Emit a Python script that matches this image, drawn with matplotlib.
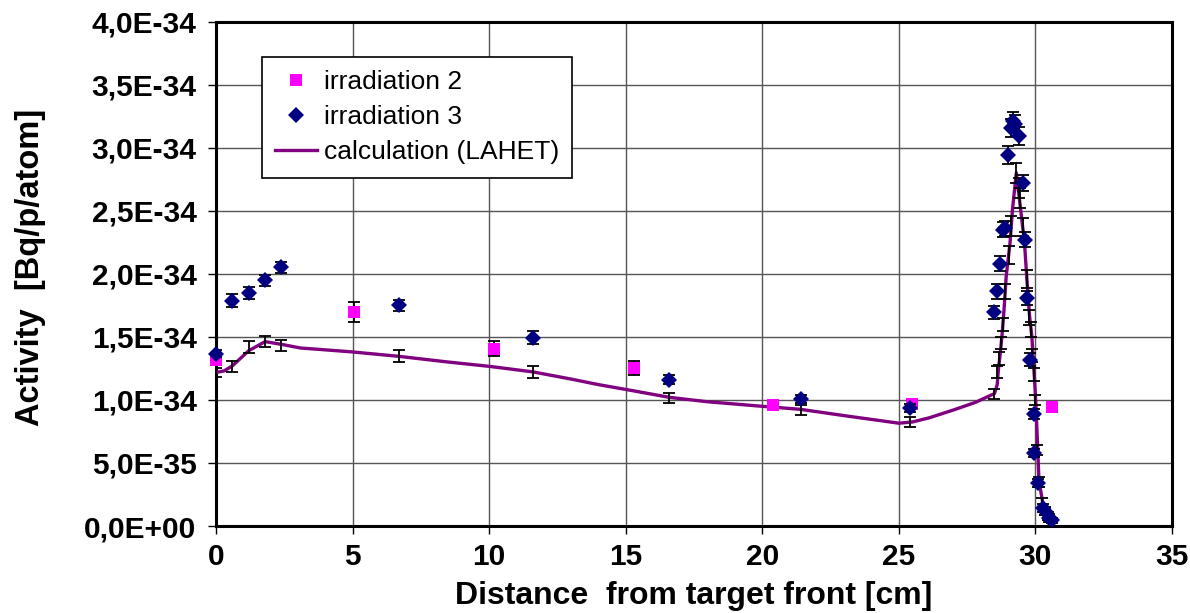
import matplotlib
matplotlib.use("Agg")
import matplotlib.pyplot as plt
from matplotlib.lines import Line2D
from matplotlib.ticker import FixedLocator

# ---------------- data ----------------
irr2_x = [0.0, 5.07, 10.18, 15.30, 20.40, 25.49, 30.60]
irr2_y = [1.314, 1.698, 1.407, 1.254, 0.960, 0.968, 0.944]
irr2_e = [0.03, 0.08, 0.063, 0.054, 0.02, 0.02, 0.02]

irr3_x = [0.0, 0.60, 1.20, 1.79, 2.39, 6.70, 11.61, 16.59, 21.42, 25.41,
          28.49, 28.61, 28.71, 28.82, 28.90, 29.01, 29.11, 29.19, 29.26, 29.40,
          29.54, 29.62, 29.69, 29.81, 29.93, 29.96, 30.11, 30.26, 30.36, 30.48, 30.60]
irr3_y = [1.367, 1.787, 1.846, 1.947, 2.052, 1.750, 1.494, 1.159, 1.008, 0.936,
          1.695, 1.860, 2.080, 2.350, 2.360, 2.940, 3.157, 3.210, 3.185, 3.090,
          2.720, 2.270, 1.810, 1.320, 0.891, 0.579, 0.341, 0.143, 0.116, 0.063, 0.044]
irr3_e = [0.03, 0.05, 0.045, 0.045, 0.045, 0.044, 0.049, 0.036, 0.03, 0.03,
          0.05, 0.06, 0.06, 0.062, 0.062, 0.07, 0.07, 0.07, 0.07, 0.07,
          0.06, 0.06, 0.055, 0.05, 0.04, 0.035, 0.03, 0.03, 0.03, 0.03, 0.02]

calc_x = [0.0, 0.3, 0.6, 1.2, 1.8, 2.4, 3.1, 3.8, 5.0, 6.7, 8.5, 10.0, 11.6, 13.0,
          14.0, 15.2, 16.6, 18.0, 20.0, 21.4, 23.0, 24.0, 25.0, 25.5, 26.1, 27.0,
          27.8, 28.2, 28.5, 28.6, 28.65, 28.72, 28.78, 28.85, 28.93, 29.07, 29.16,
          29.30, 29.48, 29.60, 29.68, 29.78, 29.87, 29.92, 29.97, 30.02, 30.07,
          30.13, 30.28, 30.50, 30.75]
calc_y = [1.217, 1.23, 1.27, 1.39, 1.462, 1.44, 1.411, 1.40, 1.38, 1.345, 1.30,
          1.266, 1.222, 1.165, 1.121, 1.075, 1.02, 0.985, 0.949, 0.925, 0.875,
          0.845, 0.815, 0.825, 0.857, 0.92, 0.98, 1.02, 1.05, 1.12, 1.25, 1.385,
          1.52, 1.714, 1.98, 2.245, 2.51, 2.80, 2.47, 2.245, 1.98, 1.676, 1.50,
          1.32, 1.15, 0.95, 0.68, 0.36, 0.17, 0.08, 0.035]

calc_err_x = [0.0, 0.60, 1.20, 1.79, 2.39, 6.70, 11.61, 16.59, 21.42, 25.41,
              28.50, 28.58, 28.68, 28.75, 28.82, 28.90, 29.05, 29.12, 29.30,
              29.40, 29.45, 29.55, 29.68, 29.75, 29.82, 29.88, 29.93, 30.00,
              30.05, 30.12, 30.25, 30.35, 30.45]
calc_err_y = [1.215, 1.266, 1.42, 1.465, 1.43, 1.345, 1.222, 1.016, 0.923, 0.825,
              1.05, 1.22, 1.33, 1.45, 1.60, 1.86, 2.15, 2.38, 2.80,
              2.68, 2.60, 2.37, 1.96, 1.65, 1.56, 1.35, 1.20, 1.00,
              0.60, 0.35, 0.18, 0.12, 0.08]
calc_err_e = [0.035, 0.045, 0.045, 0.045, 0.045, 0.048, 0.046, 0.04, 0.04, 0.04,
              0.04, 0.05, 0.05, 0.05, 0.05, 0.06, 0.07, 0.08, 0.08,
              0.08, 0.08, 0.07, 0.07, 0.06, 0.06, 0.05, 0.05, 0.04,
              0.04, 0.04, 0.04, 0.03, 0.03]

x_ticks = [0, 5, 10, 15, 20, 25, 30, 35]
y_ticks = [0.0, 0.5, 1.0, 1.5, 2.0, 2.5, 3.0, 3.5, 4.0]
y_tick_labels = ["0,0E+00", "5,0E-35", "1,0E-34", "1,5E-34", "2,0E-34",
                 "2,5E-34", "3,0E-34", "3,5E-34", "4,0E-34"]
SCALE = 1e-34

# ---------------- figure ----------------
plt.rcParams['font.family'] = ['Liberation Sans', 'DejaVu Sans']
fig = plt.figure(figsize=(11.9, 6.13), dpi=100)
ax = fig.add_axes([216 / 1190, 1 - 526 / 613, (1172 - 216) / 1190, (526 - 21.5) / 613])

sc = lambda v: [a * SCALE for a in v]
eb_kw = dict(fmt='none', ecolor='black', elinewidth=1.3, capsize=4.3, capthick=1.3)

ax.plot(calc_x, sc(calc_y), color='#800080', lw=2.4, zorder=3)
ax.errorbar(calc_err_x, sc(calc_err_y), yerr=sc(calc_err_e), zorder=4, **eb_kw)
ax.errorbar(irr2_x, sc(irr2_y), yerr=sc(irr2_e), zorder=4.5, **eb_kw)
ax.plot(irr2_x, sc(irr2_y), 's', color='#FF00FF', markersize=8.5,
        markeredgewidth=0, zorder=5, clip_on=False)
ax.errorbar(irr3_x, sc(irr3_y), yerr=sc(irr3_e), zorder=5.5, **eb_kw)
ax.plot(irr3_x, sc(irr3_y), 'D', color='#000080', markersize=8,
        markeredgewidth=0, zorder=6, clip_on=False)

ax.set_xlim(0, 35)
ax.set_ylim(0, 4.0 * SCALE)
ax.xaxis.set_major_locator(FixedLocator(x_ticks))
ax.yaxis.set_major_locator(FixedLocator(sc(y_ticks)))
ax.set_xticklabels([str(t) for t in x_ticks])
ax.set_yticklabels(y_tick_labels)
ax.grid(True, color='#555555', lw=1.0)
ax.set_axisbelow(True)
for s in ax.spines.values():
    s.set_linewidth(2.2)
    s.set_color('black')
ax.tick_params(axis='both', direction='out', length=6, width=1.0,
               labelsize=21.5, pad=6)
for lbl in ax.get_xticklabels() + ax.get_yticklabels():
    lbl.set_fontweight('bold')
ax.tick_params(axis='y', pad=8)

ax.set_xlabel('Distance  from target front [cm]', fontsize=23, fontweight='bold')
ax.set_ylabel('Activity  [Bq/p/atom]', fontsize=23.5, fontweight='bold')
ax.xaxis.set_label_coords(0.5, -0.11)
ax.yaxis.set_label_coords(-0.178, 0.512)

handles = [
    Line2D([], [], marker='s', color='#FF00FF', linestyle='none', markersize=8.5,
           markeredgewidth=0),
    Line2D([], [], marker='D', color='#000080', linestyle='none', markersize=8,
           markeredgewidth=0),
    Line2D([], [], color='#800080', lw=2.4),
]
leg = ax.legend(handles, ['irradiation 2', 'irradiation 3', 'calculation (LAHET)'],
                loc='upper left', bbox_to_anchor=((262 - 216) / 956, (526 - 57) / 504.5),
                fontsize=19, frameon=True, fancybox=False, edgecolor='black',
                framealpha=1, borderpad=0.5, labelspacing=0.42, handlelength=1.6,
                handletextpad=0.25, borderaxespad=0)
leg.get_frame().set_linewidth(1.2)

fig.savefig('out.png', dpi=100)
